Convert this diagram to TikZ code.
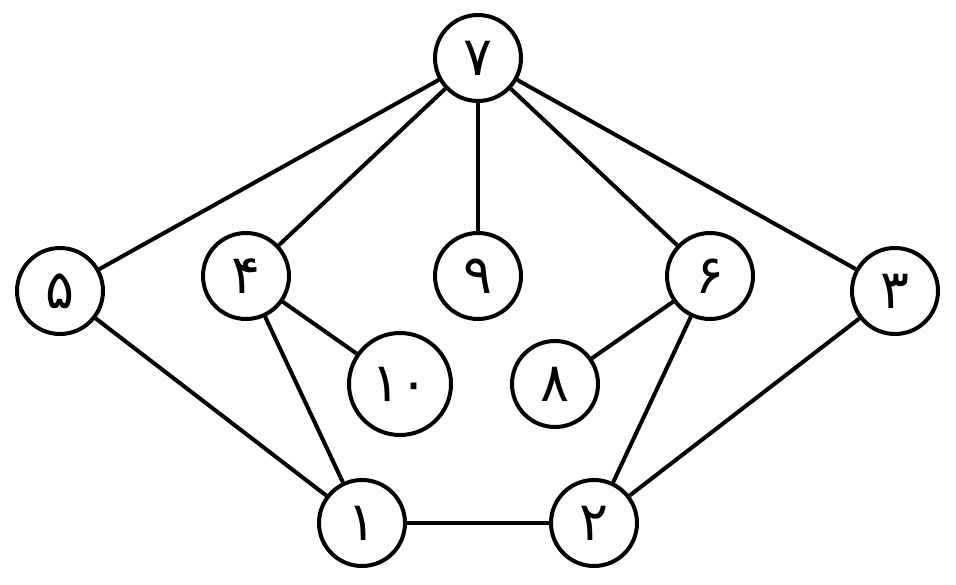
\documentclass[tikz,border=0pt]{standalone}
\usepackage{fontspec}
\newfontfamily\fadigits[Script=Arabic]{DejaVu Sans}
\begin{document}
\begin{tikzpicture}[x=1pt,y=-1pt,
  vtx/.style={circle,draw=black,line width=4pt,minimum size=86pt,inner sep=0pt,
    font=\fadigits\fontsize{54}{58}\selectfont},
  big/.style={minimum size=102pt},
  edge/.style={draw=black,line width=4pt}]
\useasboundingbox (0,0) rectangle (956,584);
\node[vtx] (n7) at (478,58) {۷};
\node[vtx] (n5) at (60,291) {۵};
\node[vtx] (n4) at (246,276) {۴};
\node[vtx] (n9) at (478,276) {۹};
\node[vtx] (n6) at (710,276) {۶};
\node[vtx] (n3) at (895,291) {۳};
\node[vtx,big] (n10) at (400,384) {۱۰};
\node[vtx] (n8) at (555,384) {۸};
\node[vtx] (n1) at (362,523) {۱};
\node[vtx] (n2) at (594,523) {۲};
\draw[edge] (n7) -- (n5);
\draw[edge] (n7) -- (n4);
\draw[edge] (n7) -- (n9);
\draw[edge] (n7) -- (n6);
\draw[edge] (n7) -- (n3);
\draw[edge] (n5) -- (n1);
\draw[edge] (n4) -- (n1);
\draw[edge] (n4) -- (n10);
\draw[edge] (n6) -- (n8);
\draw[edge] (n6) -- (n2);
\draw[edge] (n3) -- (n2);
\draw[edge] (n1) -- (n2);
\end{tikzpicture}
\end{document}
